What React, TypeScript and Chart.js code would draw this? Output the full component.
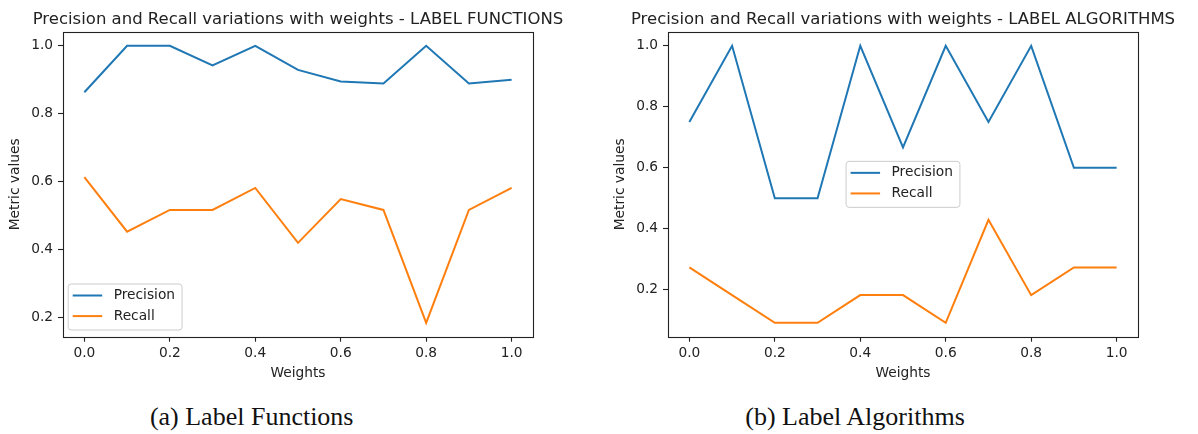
import { useEffect, useRef } from "react";
import { Chart, registerables } from "chart.js";

Chart.register(...registerables);

const weights = [0, 0.1, 0.2, 0.3, 0.4, 0.5, 0.6, 0.7, 0.8, 0.9, 1.0];
const lfPrecision = [0.863, 1.0, 1.0, 0.942, 1.0, 0.929, 0.895, 0.889, 1.0, 0.889, 0.9];
const lfRecall = [0.613, 0.452, 0.516, 0.516, 0.581, 0.419, 0.548, 0.516, 0.183, 0.516, 0.581];
const laPrecision = [0.75, 1.0, 0.5, 0.5, 1.0, 0.667, 1.0, 0.75, 1.0, 0.6, 0.6];
const laRecall = [0.273, 0.182, 0.091, 0.091, 0.182, 0.182, 0.091, 0.429, 0.182, 0.273, 0.273];
const xTicks = [0, 0.2, 0.4, 0.6, 0.8, 1.0];
const yTicks = [0.2, 0.4, 0.6, 0.8, 1.0];
const seriesLabels = ["Precision", "Recall"];
const seriesColors = ["#1f77b4", "#ff7f0e"];
const xTitle = "Weights";
const yTitle = "Metric values";
const titleLF = "Precision and Recall variations with weights - LABEL FUNCTIONS";
const titleLA = "Precision and Recall variations with weights - LABEL ALGORITHMS";
const captionLF = "(a) Label Functions";
const captionLA = "(b) Label Algorithms";

const FONT = "DejaVu Sans";
const INK = "#222";
const FS = 13.75;

const framePlugin = {
  id: "frameBox",
  afterDatasetsDraw(chart: any) {
    const { ctx, chartArea: a } = chart;
    ctx.save();
    ctx.strokeStyle = INK;
    ctx.lineWidth = 1.1;
    ctx.strokeRect(Math.round(a.left) + 0.5, Math.round(a.top) + 0.5, Math.round(a.right - a.left), Math.round(a.bottom - a.top));
    ctx.restore();
  },
};

const axTitlePlugin = {
  id: "axTitle",
  afterDraw(chart: any, _args: any, opts: any) {
    const { ctx, chartArea: a } = chart;
    ctx.save();
    ctx.font = `16.5px "${FONT}"`;
    ctx.fillStyle = INK;
    ctx.textAlign = "center";
    ctx.textBaseline = "alphabetic";
    ctx.fillText(opts.text, (a.left + a.right) / 2, 23.5);
    ctx.restore();
  },
};

const boxLegendPlugin = {
  id: "boxLegend",
  afterDraw(chart: any, _args: any, opts: any) {
    const { ctx, chartArea: a } = chart;
    const ds = chart.data.datasets;
    ctx.save();
    ctx.font = `${FS}px "${FONT}"`;
    const tw = Math.max(...ds.map((d: any) => ctx.measureText(d.label).width));
    const w = 45.5 + tw + 7;
    const h = 46;
    let x: number, y: number;
    if (opts.loc === "center") {
      x = (a.left + a.right) / 2 - w / 2;
      y = (a.top + a.bottom) / 2 - h / 2;
    } else {
      x = a.left + 5.2;
      y = a.bottom - 6.7 - h;
    }
    const r = 3;
    ctx.beginPath();
    ctx.moveTo(x + r, y);
    ctx.arcTo(x + w, y, x + w, y + h, r);
    ctx.arcTo(x + w, y + h, x, y + h, r);
    ctx.arcTo(x, y + h, x, y, r);
    ctx.arcTo(x, y, x + w, y, r);
    ctx.closePath();
    ctx.fillStyle = "rgba(255,255,255,0.8)";
    ctx.fill();
    ctx.strokeStyle = "#cccccc";
    ctx.lineWidth = 1;
    ctx.stroke();
    ds.forEach((d: any, i: number) => {
      const cy = y + 11.5 + i * 20.6;
      ctx.beginPath();
      ctx.moveTo(x + 4.5, cy);
      ctx.lineTo(x + 34, cy);
      ctx.strokeStyle = d.borderColor;
      ctx.lineWidth = 2;
      ctx.stroke();
      ctx.fillStyle = INK;
      ctx.textBaseline = "middle";
      ctx.textAlign = "left";
      ctx.fillText(d.label, x + 45.5, cy);
    });
    ctx.restore();
  },
};

type PanelProps = {
  title: string;
  precision: number[];
  recall: number[];
  loc: string;
  yWidth: number;
  yTitlePad: number;
  rightPad: number;
  width: number;
};

function Panel({ title, precision, recall, loc, yWidth, yTitlePad, rightPad, width }: PanelProps) {
  const ref = useRef<HTMLCanvasElement>(null);
  useEffect(() => {
    if (!ref.current) return;
    const all = [...precision, ...recall];
    const lo = Math.min(...all);
    const hi = Math.max(...all);
    const pad = (hi - lo) * 0.05;
    const xlo = weights[0];
    const xhi = weights[weights.length - 1];
    const xpad = (xhi - xlo) * 0.05;
    const series = [precision, recall];
    const chart = new Chart(ref.current, {
      type: "line",
      data: {
        datasets: series.map((vals, i) => ({
          label: seriesLabels[i],
          data: weights.map((w, j) => ({ x: w, y: vals[j] })),
          borderColor: seriesColors[i],
          backgroundColor: seriesColors[i],
          borderWidth: 2,
          pointRadius: 0,
          tension: 0,
          fill: false,
        })),
      },
      options: {
        animation: false,
        responsive: false,
        layout: { padding: { left: 0, right: rightPad, top: 32, bottom: 0 } },
        plugins: {
          legend: { display: false },
          tooltip: { enabled: false },
          title: { display: false },
          axTitle: { text: title },
          boxLegend: { loc },
        } as any,
        scales: {
          x: {
            type: "linear",
            min: xlo - xpad,
            max: xhi + xpad,
            afterBuildTicks: (s: any) => {
              s.ticks = xTicks.map((v) => ({ value: v }));
            },
            afterFit: (s: any) => {
              s.height = 45.3;
            },
            ticks: {
              color: INK,
              font: { family: FONT, size: FS },
              padding: 3.5,
              maxRotation: 0,
              callback: (v: any) => Number(v).toFixed(1),
            },
            grid: { display: true, drawOnChartArea: false, drawTicks: true, tickLength: 5, color: INK, tickWidth: 1.1 },
            border: { display: false },
            title: {
              display: true,
              text: xTitle,
              color: INK,
              font: { family: FONT, size: FS },
              padding: { top: 0, bottom: 0.5 },
            },
          },
          y: {
            type: "linear",
            min: lo - pad,
            max: hi + pad,
            afterBuildTicks: (s: any) => {
              s.ticks = yTicks.filter((v) => v >= s.min && v <= s.max).map((v) => ({ value: v }));
            },
            afterFit: (s: any) => {
              s.width = yWidth;
            },
            ticks: {
              color: INK,
              font: { family: FONT, size: FS },
              padding: 5,
              callback: (v: any) => Number(v).toFixed(1),
            },
            grid: { display: true, drawOnChartArea: false, drawTicks: true, tickLength: 5, color: INK, tickWidth: 1.1 },
            border: { display: false },
            title: {
              display: true,
              text: yTitle,
              color: INK,
              font: { family: FONT, size: FS },
              padding: { top: yTitlePad, bottom: 0 },
            },
          },
        },
      },
      plugins: [framePlugin, axTitlePlugin, boxLegendPlugin],
    } as any);
    return () => chart.destroy();
  }, []);
  return <canvas ref={ref} width={width} height={382} style={{ width, height: 382, display: "block" }} />;
}

export default function App() {
  const capStyle: any = {
    position: "absolute",
    top: 404,
    fontFamily: '"Liberation Serif", serif',
    fontSize: 26,
    lineHeight: "26px",
    color: "#111",
    whiteSpace: "nowrap",
    transform: "translateX(-50%)",
  };
  return (
    <div style={{ position: "absolute", left: 0, top: 0, width: 1198, height: 434, background: "#fff", overflow: "hidden" }}>
      <div style={{ position: "absolute", left: 0, top: 0 }}>
        <Panel title={titleLF} precision={lfPrecision} recall={lfRecall} loc="lower left" yWidth={63} yTitlePad={7} rightPad={67} width={600} />
      </div>
      <div style={{ position: "absolute", left: 600, top: 0 }}>
        <Panel title={titleLA} precision={laPrecision} recall={laRecall} loc="center" yWidth={68} yTitlePad={12.5} rightPad={60} width={598} />
      </div>
      <div style={{ ...capStyle, left: 251.7 }}>{captionLF}</div>
      <div style={{ ...capStyle, left: 855 }}>{captionLA}</div>
    </div>
  );
}
